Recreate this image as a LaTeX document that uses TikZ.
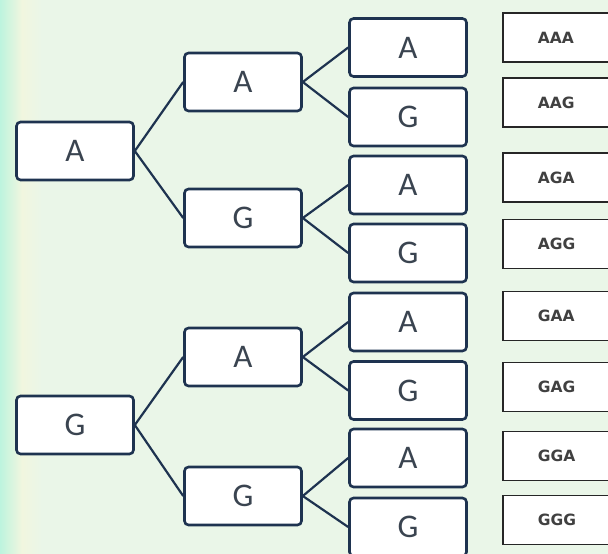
\documentclass[tikz,border=0pt]{standalone}
\usepackage{fontspec}
\setmainfont{Carlito}
\newfontfamily\resfont{DejaVu Sans}
\definecolor{bgc}{HTML}{EAF6E8}
\definecolor{stripc}{HTML}{BDF4DE}
\definecolor{bandc}{HTML}{F1F6DF}
\definecolor{navy}{HTML}{1E3350}
\definecolor{txtc}{HTML}{3A4450}
\begin{document}
\begin{tikzpicture}[x=1pt,y=-1pt,
  base/.style={draw=navy,line width=2.6pt,rounded corners=4pt,fill=white,
    minimum width=117pt,minimum height=58pt,inner sep=0pt,
    font=\fontsize{33}{33}\selectfont,text=txtc},
  res/.style={draw=black!85,line width=1.6pt,fill=white,
    minimum height=49pt,inner sep=0pt,text width=140pt,align=left,
    font=\resfont\bfseries\fontsize{15.5}{15.5}\selectfont,text=black!75},
  link/.style={draw=navy,line width=2.2pt}]
\useasboundingbox (0,0) rectangle (608,554);
\clip (0,0) rectangle (608,554);
\fill[bgc] (0,0) rectangle (608,554);
\shade[left color=stripc,right color=bandc] (0,0) rectangle (22,554);
\shade[left color=bandc,right color=bgc] (22,0) rectangle (42,554);
% level 0
\node[base] (a) at (75,151) {A};
\node[base] (g) at (75,425) {G};
% level 1
\node[base] (aa) at (243,82) {A};
\node[base] (ag) at (243,218) {G};
\node[base] (ga) at (243,357) {A};
\node[base] (gg) at (243,496) {G};
% level 2
\node[base] (aaa) at (408,47.5) {A};
\node[base] (aag) at (408,117) {G};
\node[base] (aga) at (408,185) {A};
\node[base] (agg) at (408,253) {G};
\node[base] (gaa) at (408,322) {A};
\node[base] (gag) at (408,390.5) {G};
\node[base] (gga) at (408,458) {A};
\node[base] (ggg) at (408,527) {G};
% results (box runs past the right edge)
\foreach \n/\y/\t in {r1/37.5/AAA,r2/102.5/AAG,r3/177.5/AGA,r4/244/AGG,r5/316/GAA,r6/387/GAG,r7/456/GGA,r8/520/GGG}
  \node[res,anchor=west] (\n) at (502,\y) {\hspace*{35pt}\t};
% connectors
\foreach \p/\c in {a/aa,a/ag,g/ga,g/gg,aa/aaa,aa/aag,ag/aga,ag/agg,ga/gaa,ga/gag,gg/gga,gg/ggg}
  \draw[link] (\p.east) -- (\c.west);
\end{tikzpicture}
\end{document}
